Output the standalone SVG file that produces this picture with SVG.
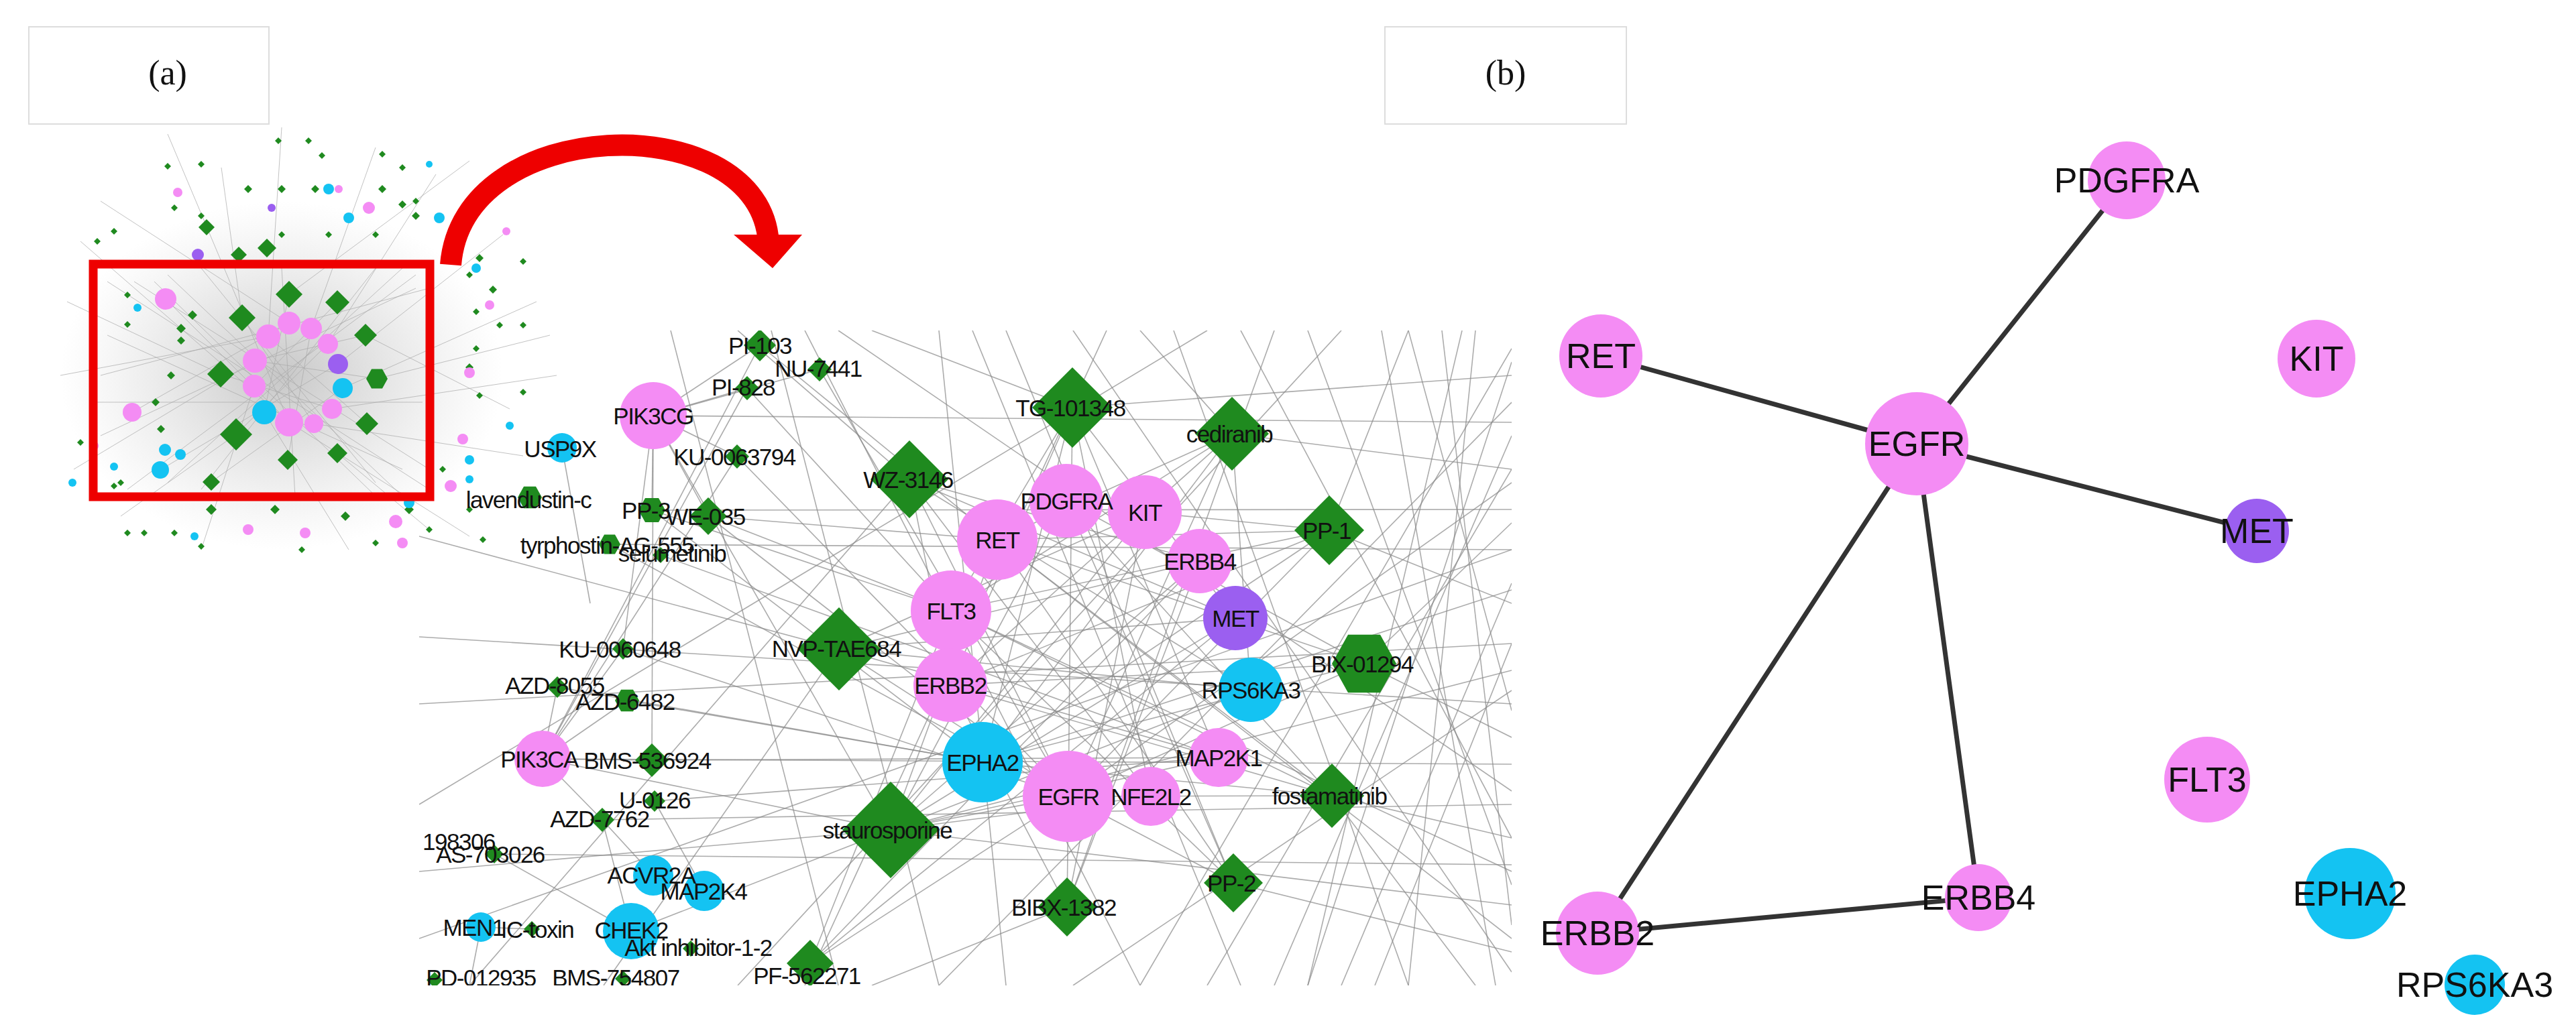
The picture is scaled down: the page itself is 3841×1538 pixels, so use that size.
<svg xmlns="http://www.w3.org/2000/svg" xmlns:xlink="http://www.w3.org/1999/xlink" width="3841" height="1538" viewBox="0 0 3841 1538">
<style>
.t{font-family:"Liberation Sans",Arial,sans-serif;fill:#111;text-anchor:middle;dominant-baseline:central}
.z{font-size:35px;letter-spacing:-1.5px}
.b{font-size:52px}
.pk{fill:#f48cf4}.cy{fill:#14c3f2}.pu{fill:#9b5ff0}.gr{fill:#1f8a1f}
.e line{stroke:#8a8a8a;stroke-width:1.6;opacity:.7}
.m line{stroke:#aaa;stroke-width:1;opacity:.7}
.bl line{stroke:#333;stroke-width:7;stroke-linecap:round}
</style>
<defs>
<polygon id="d" points="0,-1 1,0 0,1 -1,0"/>
<polygon id="h" points="-1,0 -0.5,-0.9 0.5,-0.9 1,0 0.5,0.9 -0.5,0.9"/>
<clipPath id="cp"><rect x="625" y="493" width="1629" height="977"/></clipPath>
<radialGradient id="dens"><stop offset="0" stop-color="#999" stop-opacity=".55"/><stop offset="1" stop-color="#bbb" stop-opacity="0"/></radialGradient>
</defs>
<rect width="3841" height="1538" fill="#fff"/>
<g id="labelA"><rect x="43" y="40" width="358" height="145" fill="#fff" stroke="#ddd" stroke-width="2"/><text class="t" x="250" y="108" style="font-family:'Liberation Serif',serif;font-size:52px">(a)</text></g>
<g id="labelB"><rect x="2065" y="40" width="360" height="145" fill="#fff" stroke="#ddd" stroke-width="2"/><text class="t" x="2245" y="108" style="font-family:'Liberation Serif',serif;font-size:52px">(b)</text></g>

<g id="mini">
<ellipse cx="420" cy="560" rx="330" ry="260" fill="url(#dens)"/>
<g class="m">
<line x1="431" y1="630" x2="120" y2="360"/><line x1="431" y1="630" x2="250" y2="200"/><line x1="400" y1="502" x2="420" y2="190"/><line x1="464" y1="490" x2="560" y2="220"/><line x1="489" y1="513" x2="650" y2="260"/><line x1="504" y1="543" x2="750" y2="350"/><line x1="511" y1="579" x2="800" y2="450"/><line x1="495" y1="610" x2="830" y2="560"/><line x1="468" y1="632" x2="780" y2="680"/><line x1="431" y1="630" x2="700" y2="800"/><line x1="394" y1="615" x2="520" y2="820"/><line x1="379" y1="576" x2="300" y2="820"/><line x1="380" y1="538" x2="110" y2="700"/><line x1="400" y1="502" x2="90" y2="560"/><line x1="431" y1="482" x2="150" y2="300"/><line x1="431" y1="439" x2="700" y2="240"/><line x1="545" y1="500" x2="760" y2="610"/><line x1="352" y1="648" x2="180" y2="770"/><line x1="503" y1="676" x2="640" y2="790"/><line x1="329" y1="558" x2="100" y2="450"/><line x1="562" y1="565" x2="820" y2="500"/><line x1="361" y1="474" x2="330" y2="250"/><line x1="247" y1="446" x2="431" y2="630"/><line x1="197" y1="615" x2="431" y2="482"/><line x1="239" y1="701" x2="504" y2="543"/><line x1="352" y1="648" x2="489" y2="513"/><line x1="329" y1="558" x2="495" y2="610"/><line x1="361" y1="474" x2="468" y2="632"/><line x1="545" y1="500" x2="380" y2="538"/><line x1="547" y1="632" x2="400" y2="502"/><line x1="431" y1="439" x2="394" y2="615"/><line x1="503" y1="451" x2="379" y2="576"/><line x1="429" y1="686" x2="464" y2="490"/><line x1="315" y1="719" x2="511" y2="579"/><line x1="562" y1="565" x2="380" y2="538"/><line x1="160" y1="500" x2="600" y2="700"/><line x1="150" y1="650" x2="620" y2="430"/><line x1="200" y1="420" x2="640" y2="700"/><line x1="300" y1="400" x2="560" y2="720"/><line x1="600" y1="400" x2="250" y2="720"/>
<line x1="160" y1="420" x2="640" y2="730"/><line x1="150" y1="560" x2="640" y2="430"/><line x1="190" y1="730" x2="620" y2="410"/><line x1="250" y1="410" x2="600" y2="740"/><line x1="145" y1="600" x2="630" y2="600"/><line x1="420" y1="400" x2="440" y2="740"/><line x1="300" y1="730" x2="560" y2="400"/><line x1="560" y1="740" x2="230" y2="420"/>
</g>
<g class="gr">
<use href="#d" transform="translate(431,439) scale(20)"/><use href="#d" transform="translate(503,451) scale(18)"/><use href="#d" transform="translate(361,474) scale(20)"/><use href="#d" transform="translate(545,500) scale(17)"/><use href="#d" transform="translate(329,558) scale(20)"/><use href="#h" transform="translate(562,565) scale(16)"/><use href="#d" transform="translate(547,632) scale(17)"/><use href="#d" transform="translate(352,648) scale(24)"/><use href="#d" transform="translate(503,676) scale(15)"/><use href="#d" transform="translate(429,686) scale(15)"/><use href="#d" transform="translate(315,719) scale(13)"/><use href="#d" transform="translate(398,370) scale(14)"/><use href="#d" transform="translate(356,380) scale(12)"/><use href="#d" transform="translate(308,339) scale(12)"/>
<use href="#d" transform="translate(287,470) scale(7)"/><use href="#d" transform="translate(270,490) scale(7)"/><use href="#d" transform="translate(232,600) scale(6)"/><use href="#d" transform="translate(240,640) scale(6)"/><use href="#d" transform="translate(255,560) scale(6)"/><use href="#d" transform="translate(270,508) scale(6)"/><use href="#d" transform="translate(190,484) scale(5)"/><use href="#d" transform="translate(180,720) scale(5)"/><use href="#d" transform="translate(170,725) scale(5)"/>
<use href="#d" transform="translate(415,210) scale(5)"/><use href="#d" transform="translate(460,210) scale(5)"/><use href="#d" transform="translate(480,232) scale(5)"/><use href="#d" transform="translate(250,248) scale(5)"/><use href="#d" transform="translate(300,245) scale(5)"/><use href="#d" transform="translate(260,310) scale(5)"/><use href="#d" transform="translate(370,282) scale(6)"/><use href="#d" transform="translate(420,282) scale(6)"/><use href="#d" transform="translate(470,282) scale(6)"/><use href="#d" transform="translate(570,282) scale(6)"/><use href="#d" transform="translate(600,305) scale(6)"/><use href="#d" transform="translate(620,322) scale(6)"/><use href="#d" transform="translate(570,230) scale(5)"/><use href="#d" transform="translate(600,250) scale(5)"/><use href="#d" transform="translate(620,300) scale(5)"/><use href="#d" transform="translate(560,350) scale(5)"/><use href="#d" transform="translate(490,350) scale(5)"/><use href="#d" transform="translate(420,350) scale(5)"/><use href="#d" transform="translate(170,345) scale(5)"/><use href="#d" transform="translate(145,360) scale(5)"/><use href="#d" transform="translate(300,322) scale(5)"/><use href="#d" transform="translate(190,440) scale(5)"/>
<use href="#d" transform="translate(715,385) scale(6)"/><use href="#d" transform="translate(700,410) scale(5)"/><use href="#d" transform="translate(735,432) scale(6)"/><use href="#d" transform="translate(710,465) scale(5)"/><use href="#d" transform="translate(745,485) scale(5)"/><use href="#d" transform="translate(780,485) scale(5)"/><use href="#d" transform="translate(710,520) scale(5)"/><use href="#d" transform="translate(700,548) scale(6)"/><use href="#d" transform="translate(715,590) scale(5)"/><use href="#d" transform="translate(780,585) scale(5)"/><use href="#d" transform="translate(760,635) scale(5)"/><use href="#d" transform="translate(780,390) scale(5)"/><use href="#d" transform="translate(680,360) scale(5)"/><use href="#d" transform="translate(660,700) scale(5)"/>
<use href="#d" transform="translate(315,760) scale(8)"/><use href="#d" transform="translate(410,760) scale(7)"/><use href="#d" transform="translate(515,770) scale(7)"/><use href="#d" transform="translate(610,760) scale(7)"/><use href="#d" transform="translate(190,795) scale(5)"/><use href="#d" transform="translate(215,795) scale(5)"/><use href="#d" transform="translate(260,795) scale(5)"/><use href="#d" transform="translate(640,790) scale(5)"/><use href="#d" transform="translate(700,760) scale(5)"/><use href="#d" transform="translate(720,805) scale(5)"/><use href="#d" transform="translate(560,810) scale(5)"/><use href="#d" transform="translate(450,820) scale(5)"/><use href="#d" transform="translate(300,815) scale(5)"/><use href="#d" transform="translate(140,730) scale(5)"/><use href="#d" transform="translate(120,660) scale(5)"/>
</g>
<g class="pk"><circle cx="431" cy="482" r="17"/><circle cx="464" cy="490" r="16"/><circle cx="489" cy="513" r="15"/><circle cx="495" cy="610" r="15"/><circle cx="468" cy="632" r="14"/><circle cx="431" cy="630" r="21"/><circle cx="379" cy="576" r="17"/><circle cx="380" cy="538" r="18"/><circle cx="400" cy="502" r="18"/><circle cx="247" cy="446" r="16"/><circle cx="197" cy="615" r="14"/><circle cx="265" cy="287" r="7"/><circle cx="550" cy="310" r="9"/><circle cx="730" cy="455" r="7"/><circle cx="700" cy="556" r="8"/><circle cx="690" cy="655" r="8"/><circle cx="672" cy="725" r="9"/><circle cx="590" cy="778" r="10"/><circle cx="370" cy="790" r="8"/><circle cx="455" cy="795" r="8"/><circle cx="600" cy="810" r="8"/><circle cx="140" cy="665" r="7"/><circle cx="755" cy="345" r="6"/><circle cx="505" cy="282" r="6"/></g>
<g class="cy"><circle cx="511" cy="579" r="15"/><circle cx="394" cy="615" r="18"/><circle cx="239" cy="701" r="13"/><circle cx="246" cy="671" r="9"/><circle cx="269" cy="678" r="8"/><circle cx="170" cy="696" r="6"/><circle cx="205" cy="459" r="6"/><circle cx="490" cy="282" r="8"/><circle cx="520" cy="325" r="8"/><circle cx="655" cy="325" r="8"/><circle cx="710" cy="400" r="7"/><circle cx="700" cy="686" r="7"/><circle cx="700" cy="715" r="6"/><circle cx="610" cy="750" r="8"/><circle cx="290" cy="800" r="6"/><circle cx="760" cy="635" r="6"/><circle cx="640" cy="245" r="5"/><circle cx="108" cy="720" r="6"/></g>
<g class="pu"><circle cx="504" cy="543" r="15"/><circle cx="295" cy="380" r="9"/><circle cx="405" cy="310" r="6"/></g>
<rect x="139" y="394" width="502" height="347" fill="none" stroke="#e00" stroke-width="13"/>
</g>

<g id="arrow">
<path d="M 672 395 C 690 170, 1120 160, 1145 352" fill="none" stroke="#e00" stroke-width="32"/>
<polygon points="1094,350 1196,350 1152,400" fill="#e00"/>
</g>

<g id="zoomPanel" clip-path="url(#cp)">
<g class="e" id="connectors-a">
<line x1="1599" y1="608" x2="1593" y2="1188"/><line x1="1599" y1="608" x2="1465" y2="1137"/><line x1="1599" y1="608" x2="1418" y2="911"/><line x1="1599" y1="608" x2="1842" y2="922"/><line x1="1599" y1="608" x2="1817" y2="1130"/><line x1="1599" y1="608" x2="1417" y2="1022"/><line x1="1599" y1="608" x2="1300" y2="493"/><line x1="1599" y1="608" x2="2254" y2="560"/>
<line x1="1837" y1="647" x2="1593" y2="1188"/><line x1="1837" y1="647" x2="1418" y2="911"/><line x1="1837" y1="647" x2="1487" y2="805"/><line x1="1837" y1="647" x2="1865" y2="1029"/><line x1="1837" y1="647" x2="1465" y2="1137"/><line x1="1837" y1="647" x2="2254" y2="700"/><line x1="1837" y1="647" x2="1700" y2="493"/>
<line x1="1356" y1="715" x2="1593" y2="1188"/><line x1="1356" y1="715" x2="1789" y2="837"/><line x1="1356" y1="715" x2="1716" y2="1188"/><line x1="1356" y1="715" x2="1842" y2="922"/><line x1="1356" y1="715" x2="1417" y2="1022"/><line x1="1356" y1="715" x2="1100" y2="493"/><line x1="1356" y1="715" x2="700" y2="1470"/>
<line x1="1982" y1="791" x2="1593" y2="1188"/><line x1="1982" y1="791" x2="1418" y2="911"/><line x1="1982" y1="791" x2="1487" y2="805"/><line x1="1982" y1="791" x2="1707" y2="764"/><line x1="1982" y1="791" x2="1465" y2="1137"/><line x1="1982" y1="791" x2="2254" y2="900"/><line x1="1982" y1="791" x2="2100" y2="493"/>
<line x1="1251" y1="968" x2="1593" y2="1188"/><line x1="1251" y1="968" x2="1789" y2="837"/><line x1="1251" y1="968" x2="1842" y2="922"/><line x1="1251" y1="968" x2="1707" y2="764"/><line x1="1251" y1="968" x2="1865" y2="1029"/><line x1="1251" y1="968" x2="900" y2="1470"/><line x1="1251" y1="968" x2="625" y2="800"/>
<line x1="2034" y1="990" x2="1593" y2="1188"/><line x1="2034" y1="990" x2="1417" y2="1022"/><line x1="2034" y1="990" x2="1487" y2="805"/><line x1="2034" y1="990" x2="1590" y2="747"/><line x1="2034" y1="990" x2="2254" y2="1100"/><line x1="2034" y1="990" x2="2254" y2="780"/>
<line x1="1986" y1="1187" x2="1593" y2="1188"/><line x1="1986" y1="1187" x2="1418" y2="911"/><line x1="1986" y1="1187" x2="1465" y2="1137"/><line x1="1986" y1="1187" x2="1590" y2="747"/><line x1="1986" y1="1187" x2="1487" y2="805"/><line x1="1986" y1="1187" x2="2254" y2="1250"/><line x1="1986" y1="1187" x2="2200" y2="1470"/>
<line x1="1328" y1="1238" x2="1593" y2="1188"/><line x1="1328" y1="1238" x2="1707" y2="764"/><line x1="1328" y1="1238" x2="1590" y2="747"/><line x1="1328" y1="1238" x2="1842" y2="922"/><line x1="1328" y1="1238" x2="1789" y2="837"/><line x1="1328" y1="1238" x2="1865" y2="1029"/><line x1="1328" y1="1238" x2="1817" y2="1130"/><line x1="1328" y1="1238" x2="1487" y2="805"/><line x1="1328" y1="1238" x2="974" y2="620"/><line x1="1328" y1="1238" x2="809" y2="1132"/><line x1="1328" y1="1238" x2="941" y2="1389"/><line x1="1328" y1="1238" x2="625" y2="1300"/><line x1="1328" y1="1238" x2="2254" y2="1350"/><line x1="1328" y1="1238" x2="2254" y2="1000"/>
<line x1="1839" y1="1317" x2="1593" y2="1188"/><line x1="1839" y1="1317" x2="1418" y2="911"/><line x1="1839" y1="1317" x2="1487" y2="805"/><line x1="1839" y1="1317" x2="2254" y2="1420"/><line x1="1839" y1="1317" x2="1500" y2="493"/>
<line x1="1591" y1="1353" x2="1593" y2="1188"/><line x1="1591" y1="1353" x2="1789" y2="837"/><line x1="1591" y1="1353" x2="1417" y2="1022"/><line x1="1591" y1="1353" x2="1900" y2="493"/><line x1="1591" y1="1353" x2="1300" y2="1470"/>
<line x1="1208" y1="1437" x2="1593" y2="1188"/><line x1="1208" y1="1437" x2="1418" y2="911"/><line x1="1208" y1="1437" x2="1842" y2="922"/>
<line x1="974" y1="620" x2="1133" y2="515"/><line x1="974" y1="620" x2="1114" y2="579"/><line x1="974" y1="620" x2="1222" y2="551"/><line x1="974" y1="620" x2="1099" y2="681"/><line x1="974" y1="620" x2="972" y2="1134"/><line x1="974" y1="620" x2="1056" y2="770"/><line x1="974" y1="620" x2="972" y2="761"/><line x1="974" y1="620" x2="929" y2="968"/><line x1="974" y1="620" x2="2254" y2="630"/>
<line x1="809" y1="1132" x2="1133" y2="515"/><line x1="809" y1="1132" x2="1114" y2="579"/><line x1="809" y1="1132" x2="972" y2="1134"/><line x1="809" y1="1132" x2="929" y2="968"/><line x1="809" y1="1132" x2="935" y2="1045"/><line x1="809" y1="1132" x2="831" y2="1025"/><line x1="809" y1="1132" x2="898" y2="1223"/><line x1="809" y1="1132" x2="1099" y2="681"/><line x1="809" y1="1132" x2="2254" y2="1140"/>
<line x1="1817" y1="1130" x2="976" y2="1195"/><line x1="1817" y1="1130" x2="972" y2="1134"/><line x1="1050" y1="1329" x2="976" y2="1195"/><line x1="974" y1="1306" x2="898" y2="1223"/><line x1="941" y1="1389" x2="898" y2="1223"/><line x1="941" y1="1389" x2="737" y2="1274"/><line x1="717" y1="1383" x2="793" y2="1386"/><line x1="717" y1="1383" x2="700" y2="1470"/><line x1="838" y1="668" x2="880" y2="900"/>
<line x1="1056" y1="770" x2="1593" y2="1188"/><line x1="1056" y1="770" x2="1487" y2="805"/><line x1="1056" y1="770" x2="1418" y2="911"/><line x1="972" y1="761" x2="1418" y2="911"/><line x1="972" y1="761" x2="1465" y2="1137"/><line x1="972" y1="761" x2="2254" y2="760"/><line x1="909" y1="812" x2="1593" y2="1188"/><line x1="909" y1="812" x2="2254" y2="820"/><line x1="985" y1="828" x2="1817" y2="1130"/>
<line x1="1133" y1="515" x2="1487" y2="805"/><line x1="1222" y1="551" x2="1593" y2="1188"/><line x1="1114" y1="579" x2="1418" y2="911"/><line x1="1099" y1="681" x2="1593" y2="1188"/><line x1="929" y1="968" x2="1593" y2="1188"/><line x1="935" y1="1045" x2="1465" y2="1137"/><line x1="831" y1="1025" x2="1465" y2="1137"/><line x1="737" y1="1274" x2="2254" y2="1290"/><line x1="898" y1="1223" x2="2254" y2="1200"/>
<line x1="2254" y1="520" x2="1700" y2="1470"/><line x1="2254" y1="650" x2="1900" y2="1470"/><line x1="2254" y1="870" x2="2000" y2="1470"/><line x1="2100" y1="493" x2="2254" y2="1060"/><line x1="1950" y1="493" x2="2254" y2="1320"/><line x1="2180" y1="493" x2="1950" y2="1470"/><line x1="1750" y1="493" x2="2100" y2="1470"/><line x1="1400" y1="493" x2="1500" y2="1470"/><line x1="1200" y1="493" x2="1700" y2="1470"/><line x1="625" y1="1050" x2="2254" y2="960"/><line x1="625" y1="1200" x2="1800" y2="493"/><line x1="2254" y1="1450" x2="1600" y2="493"/><line x1="2254" y1="600" x2="1400" y2="1470"/><line x1="2000" y1="493" x2="1100" y2="1470"/><line x1="2254" y1="1180" x2="1250" y2="493"/>
<line x1="2150" y1="493" x2="2254" y2="1380"/><line x1="2060" y1="493" x2="2230" y2="1470"/><line x1="2254" y1="700" x2="1800" y2="1470"/><line x1="2254" y1="960" x2="2050" y2="1470"/><line x1="2254" y1="1030" x2="1600" y2="1470"/><line x1="1850" y1="493" x2="2254" y2="1250"/><line x1="2254" y1="540" x2="1950" y2="1470"/><line x1="2200" y1="493" x2="2100" y2="1470"/><line x1="1650" y1="493" x2="1200" y2="1470"/><line x1="1450" y1="493" x2="1850" y2="1470"/><line x1="1150" y1="493" x2="1400" y2="1470"/><line x1="1000" y1="493" x2="1250" y2="1470"/><line x1="625" y1="950" x2="2254" y2="1050"/><line x1="625" y1="1400" x2="2254" y2="820"/><line x1="1599" y1="608" x2="1716" y2="1188"/><line x1="1837" y1="647" x2="1417" y2="1022"/><line x1="1356" y1="715" x2="1865" y2="1029"/><line x1="1251" y1="968" x2="1817" y2="1130"/><line x1="1986" y1="1187" x2="1417" y2="1022"/><line x1="2034" y1="990" x2="1465" y2="1137"/><line x1="1591" y1="1353" x2="1707" y2="764"/><line x1="1839" y1="1317" x2="1590" y2="747"/><line x1="1982" y1="791" x2="1417" y2="1022"/><line x1="1328" y1="1238" x2="1716" y2="1188"/><line x1="1208" y1="1437" x2="1789" y2="837"/><line x1="2254" y1="1400" x2="1487" y2="805"/><line x1="2254" y1="1300" x2="1418" y2="911"/><line x1="2254" y1="880" x2="1465" y2="1137"/><line x1="2254" y1="720" x2="1593" y2="1188"/>
</g>
<g id="n-drugs" class="gr">
<use href="#d" transform="translate(1599,608) scale(60)"/><use href="#d" transform="translate(1837,647) scale(55)"/><use href="#d" transform="translate(1356,715) scale(58)"/><use href="#d" transform="translate(1982,791) scale(52)"/><use href="#d" transform="translate(1251,968) scale(62)"/><use href="#h" transform="translate(2034,990) scale(48)"/><use href="#d" transform="translate(1986,1187) scale(48)"/><use href="#d" transform="translate(1328,1238) scale(72)"/><use href="#d" transform="translate(1839,1317) scale(44)"/><use href="#d" transform="translate(1591,1353) scale(44)"/><use href="#d" transform="translate(1208,1437) scale(35)"/>
<use href="#d" transform="translate(1133,515) scale(24)"/><use href="#d" transform="translate(1222,551) scale(18)"/><use href="#d" transform="translate(1114,579) scale(18)"/><use href="#d" transform="translate(1099,681) scale(18)"/><use href="#h" transform="translate(972,761) scale(20)"/><use href="#d" transform="translate(1056,770) scale(28)"/><use href="#h" transform="translate(790,742) scale(18)"/><use href="#h" transform="translate(909,812) scale(16)"/><use href="#d" transform="translate(985,828) scale(12)"/><use href="#d" transform="translate(929,968) scale(16)"/><use href="#d" transform="translate(831,1025) scale(16)"/><use href="#h" transform="translate(935,1045) scale(18)"/><use href="#d" transform="translate(972,1134) scale(25)"/><use href="#d" transform="translate(976,1195) scale(16)"/><use href="#d" transform="translate(898,1223) scale(18)"/><use href="#d" transform="translate(737,1274) scale(14)"/><use href="#d" transform="translate(793,1386) scale(12)"/><use href="#d" transform="translate(1030,1415) scale(12)"/><use href="#d" transform="translate(929,1460) scale(12)"/><use href="#d" transform="translate(648,1462) scale(12)"/>
</g>
<g id="n-prot">
<circle class="pk" cx="1593" cy="1188" r="68"/><circle class="cy" cx="1465" cy="1137" r="60"/><circle class="pk" cx="1716" cy="1188" r="44"/><circle class="pk" cx="1817" cy="1130" r="44"/><circle class="cy" cx="1865" cy="1029" r="48"/><circle class="pu" cx="1842" cy="922" r="48"/><circle class="pk" cx="1789" cy="837" r="48"/><circle class="pk" cx="1707" cy="764" r="55"/><circle class="pk" cx="1590" cy="747" r="55"/><circle class="pk" cx="1487" cy="805" r="60"/><circle class="pk" cx="1418" cy="911" r="60"/><circle class="pk" cx="1417" cy="1022" r="55"/><circle class="pk" cx="974" cy="620" r="50"/><circle class="pk" cx="809" cy="1132" r="42"/><circle class="cy" cx="838" cy="668" r="22"/><circle class="cy" cx="974" cy="1306" r="30"/><circle class="cy" cx="1050" cy="1329" r="30"/><circle class="cy" cx="941" cy="1389" r="42"/><circle class="cy" cx="717" cy="1383" r="22"/>
</g>
<g id="zlabels" class="t z">
<text x="1593" y="1188">EGFR</text><text x="1465" y="1137">EPHA2</text><text x="1716" y="1188">NFE2L2</text><text x="1817" y="1130">MAP2K1</text><text x="1865" y="1029">RPS6KA3</text><text x="1842" y="922">MET</text><text x="1789" y="837">ERBB4</text><text x="1707" y="764">KIT</text><text x="1590" y="747">PDGFRA</text><text x="1487" y="805">RET</text><text x="1418" y="911">FLT3</text><text x="1417" y="1022">ERBB2</text><text x="974" y="620">PIK3CG</text><text x="804" y="1132">PIK3CA</text><text x="835" y="669">USP9X</text><text x="971" y="1305">ACVR2A</text><text x="1049" y="1329">MAP2K4</text><text x="941" y="1387">CHEK2</text><text x="706" y="1383">MEN1</text>
<text x="1596" y="608">TG-101348</text><text x="1833" y="647">cediranib</text><text x="1354" y="715">WZ-3146</text><text x="1978" y="791">PP-1</text><text x="1247" y="967">NVP-TAE684</text><text x="2031" y="990">BIX-01294</text><text x="1982" y="1187">fostamatinib</text><text x="1323" y="1238">staurosporine</text><text x="1836" y="1317">PP-2</text><text x="1586" y="1353">BIBX-1382</text><text x="1203" y="1455">PF-562271</text>
<text x="1133" y="515">PI-103</text><text x="1220" y="549">NU-7441</text><text x="1108" y="577">PI-828</text><text x="1095" y="681">KU-0063794</text><text x="788" y="745">lavendustin-c</text><text x="963" y="761">PP-3</text><text x="1052" y="770">WE-035</text><text x="905" y="813">tyrphostin-AG-555</text><text x="1002" y="825">selumetinib</text><text x="924" y="968">KU-0060648</text><text x="827" y="1022">AZD-8055</text><text x="932" y="1046">AZD-6482</text><text x="965" y="1134">BMS-536924</text><text x="976" y="1193">U-0126</text><text x="894" y="1221">AZD-7762</text><text x="684" y="1255">198306</text><text x="731" y="1274">AS-703026</text><text x="801" y="1386">IC-toxin</text><text x="1041" y="1413">Akt inhibitor-1-2</text><text x="918" y="1458">BMS-754807</text><text x="717" y="1458">PD-012935</text>
</g>
</g>

<g id="panelB">
<g class="bl" id="connectors-b">
<line x1="2387" y1="531" x2="2858" y2="662"/><line x1="3171" y1="269" x2="2858" y2="662"/><line x1="2858" y1="662" x2="3365" y2="792"/><line x1="2858" y1="662" x2="2382" y2="1392"/><line x1="2858" y1="662" x2="2950" y2="1339"/><line x1="2382" y1="1392" x2="2950" y2="1339"/>
</g>
<g id="b-PDGFRA"><circle class="pk" cx="3171" cy="269" r="58"/><text class="t b" x="3171" y="269">PDGFRA</text></g>
<g id="b-RET"><circle class="pk" cx="2387" cy="531" r="62"/><text class="t b" x="2387" y="531">RET</text></g>
<g id="b-KIT"><circle class="pk" cx="3454" cy="535" r="58"/><text class="t b" x="3454" y="535">KIT</text></g>
<g id="b-EGFR"><circle class="pk" cx="2858" cy="662" r="77"/><text class="t b" x="2858" y="662">EGFR</text></g>
<g id="b-MET"><circle class="pu" cx="3365" cy="792" r="48"/><text class="t b" x="3365" y="792">MET</text></g>
<g id="b-FLT3"><circle class="pk" cx="3291" cy="1163" r="64"/><text class="t b" x="3291" y="1163">FLT3</text></g>
<g id="b-EPHA2"><circle class="cy" cx="3504" cy="1333" r="68"/><text class="t b" x="3504" y="1333">EPHA2</text></g>
<g id="b-ERBB4"><circle class="pk" cx="2950" cy="1339" r="50"/><text class="t b" x="2950" y="1339">ERBB4</text></g>
<g id="b-ERBB2"><circle class="pk" cx="2382" cy="1392" r="62"/><text class="t b" x="2382" y="1392">ERBB2</text></g>
<g id="b-RPS6KA3"><circle class="cy" cx="3690" cy="1469" r="45"/><text class="t b" x="3690" y="1469">RPS6KA3</text></g>
</g>
</svg>
